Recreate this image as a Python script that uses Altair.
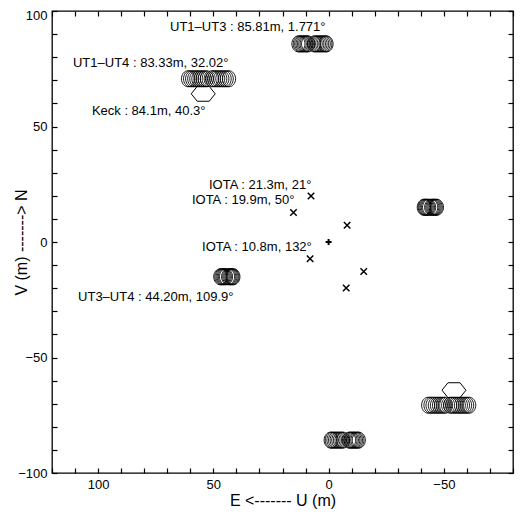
import altair as alt
import pandas as pd

# ---- data (u = East, v = North, metres) ----
ut13_u = [13.1, 12.5, 11.9, 11.3, 10.7, 10.1, 9.5, 8.9, 6.3, 5.6, 4.9, 4.2, 3.5, 2.8, 2.1, 1.4, 0.9]
ut13_v = 85.77
ut14_u = [61.0, 60.1, 59.2, 58.3, 57.4, 56.5, 55.6, 54.7, 53.8, 52.8,
          50.6, 49.7, 48.8, 47.9, 47.0, 46.1, 45.1, 44.2, 43.2]
ut14_v = 70.66
ut34_u = [47.0, 46.5, 46.0, 45.5, 45.0, 44.5, 43.6, 43.1, 42.6, 42.1, 41.7, 41.3]
ut34_v = -15.04
keck_u = [54.39]
keck_v = [64.15]
iota_u = [7.63, 15.24, 8.03]
iota_v = [19.89, 12.79, -7.23]
origin_u = [0.0]
origin_v = [0.0]

label_text = [
    "UT1\u2013UT3 : 85.81m, 1.771\u00b0",
    "UT1\u2013UT4 : 83.33m, 32.02\u00b0",
    "Keck : 84.1m, 40.3\u00b0",
    "IOTA : 21.3m, 21\u00b0",
    "IOTA : 19.9m, 50\u00b0",
    "IOTA : 10.8m, 132\u00b0",
    "UT3\u2013UT4 : 44.20m, 109.9\u00b0",
]
label_u = [68.8, 110.9, 102.7, 51.9, 59.3, 54.9, 108.7]
label_v = [93.1, 77.3, 56.7, 24.5, 18.0, -2.1, -24.0]

xticks = list(range(-80, 121, 10))
yticks = list(range(-100, 101, 10))

def mirrored(us, vs):
    rows = []
    for u, v in zip(us, vs):
        rows.append({"u": u, "v": v})
        rows.append({"u": -u, "v": -v})
    return rows

circ_rows = (mirrored(ut13_u, [ut13_v] * len(ut13_u))
             + mirrored(ut14_u, [ut14_v] * len(ut14_u))
             + mirrored(ut34_u, [ut34_v] * len(ut34_u)))
circles = pd.DataFrame(circ_rows)
keck = pd.DataFrame(mirrored(keck_u, keck_v))
iota = pd.DataFrame(mirrored(iota_u, iota_v))
origin = pd.DataFrame({"u": origin_u, "v": origin_v})
labels = pd.DataFrame({"u": label_u, "v": label_v, "t": label_text})

FONT = "Liberation Sans"
X_SCALE = alt.Scale(domain=[-80, 120], reverse=True, nice=False, zero=False)
Y_SCALE = alt.Scale(domain=[-100, 100], nice=False, zero=False)

INWARD = {"expr": "-5"}   # ticks pointing into the plot

x_bottom = alt.Axis(orient="bottom", values=xticks, domain=False, grid=False,
                    tickSize=INWARD, tickColor="black", tickWidth=1.2,
                    labelColor="black", labelFont=FONT, labelFontSize=13,
                    labelExpr="datum.value % 50 == 0 ? datum.label : ''",
                    labelPadding=10, labelOverlap=False,
                    title="E <------- U (m)", titlePadding=1, titleFont=FONT,
                    titleFontSize=16, titleFontWeight="normal", titleColor="black")
y_left = alt.Axis(orient="left", values=yticks, domain=False, grid=False,
                  tickSize=INWARD, tickColor="black", tickWidth=1.2,
                  labelColor="black", labelFont=FONT, labelFontSize=13,
                  labelExpr="datum.value % 50 == 0 ? datum.label : ''",
                  labelOffset={"condition": {"test": "datum.value == 100", "value": 4}, "value": 0},
                  labelPadding=10, labelOverlap=False,
                  title="V (m) -------> N", titlePadding=-12, titleFont=FONT,
                  titleFontSize=16, titleFontWeight="normal", titleColor="black")
x_top = alt.Axis(orient="top", values=xticks, domain=False, grid=False,
                 tickSize=INWARD, tickColor="black", tickWidth=1.2, labels=False, title="")
y_right = alt.Axis(orient="right", values=yticks, domain=False, grid=False,
                   tickSize=INWARD, tickColor="black", tickWidth=1.2, labels=False, title="")

ELLIPSE = "M -0.82 0 A 0.82 1 0 1 0 0.82 0 A 0.82 1 0 1 0 -0.82 0 Z"
HEXAGON = "M -1 0 L -0.5 -0.62 L 0.5 -0.62 L 1 0 L 0.5 0.62 L -0.5 0.62 Z"
XMARK = "M -1 -1 L 1 1 M -1 1 L 1 -1"
PLUS = "M -1 0 L 1 0 M 0 -1 L 0 1"

def xy(xaxis=None, yaxis=None):
    return dict(x=alt.X("u:Q", scale=X_SCALE, axis=xaxis),
                y=alt.Y("v:Q", scale=Y_SCALE, axis=yaxis))

circ_layer = alt.Chart(circles).mark_point(
    shape=ELLIPSE, size=256, filled=False, stroke="black", strokeWidth=0.9, opacity=1
).encode(**xy(x_bottom, y_left))

hex_layer = alt.Chart(keck).mark_point(
    shape=HEXAGON, size=576, filled=False, stroke="black", strokeWidth=1, opacity=1
).encode(**xy())

iota_layer = alt.Chart(iota).mark_point(
    shape=XMARK, size=42, filled=False, stroke="black", strokeWidth=1.5, opacity=1
).encode(**xy())

origin_layer = alt.Chart(origin).mark_point(
    shape=PLUS, size=36, filled=False, stroke="black", strokeWidth=2, opacity=1
).encode(**xy(x_top, y_right))

text_layer = alt.Chart(labels).mark_text(
    align="left", baseline="middle", font=FONT, fontSize=13, color="black"
).encode(**xy(), text="t:N")

chart = alt.layer(
    circ_layer, hex_layer, iota_layer, origin_layer, text_layer
).resolve_axis(x="independent", y="independent").properties(
    width=461, height=462,
    autosize=alt.AutoSizeParams(type="none"),
    padding={"left": 44, "top": 3, "right": 3, "bottom": 40},
).configure_view(stroke="black", strokeWidth=1.3)

chart.save("out.html", embed_options={"renderer": "svg", "actions": False})
